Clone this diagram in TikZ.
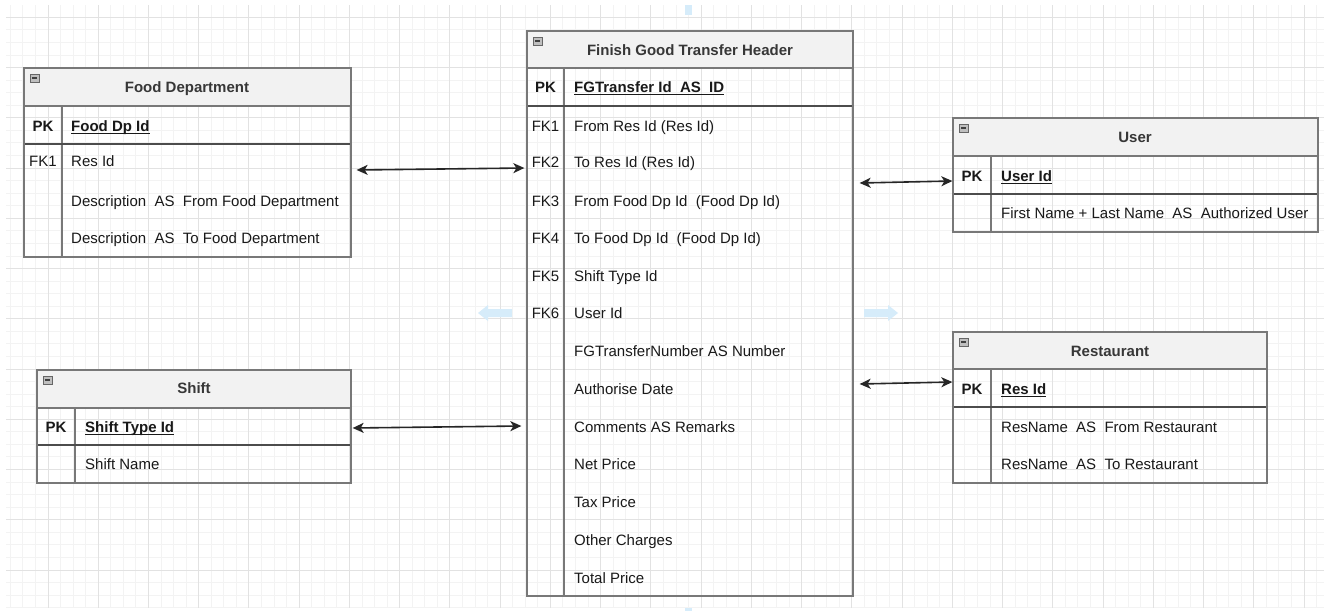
\documentclass[tikz,border=0pt]{standalone}
\usepackage{fontspec}
\setmainfont{Liberation Sans}
\usetikzlibrary{arrows.meta,fit}
\definecolor{bordercol}{RGB}{120,120,120}
\definecolor{titlefill}{RGB}{242,242,242}
\definecolor{gridminor}{RGB}{243,243,243}
\definecolor{gridmajor}{RGB}{226,226,226}
\definecolor{hintblue}{RGB}{214,236,250}
\definecolor{txt}{RGB}{25,25,25}
\definecolor{ttl}{RGB}{55,55,55}
\newcommand\ertab[8]{%
  \coordinate (#1-nw) at (#2,#3);
  \coordinate (#1-se) at (#4,#7);
  \fill[titlefill] (#2,#3) rectangle (#4,#5);
  \draw[tline] (#2,#5) -- (#4,#5);
  \draw[tline] (#8,#5) -- (#8,#7);
  \draw[pkline] (#2,#6) -- (#4,#6);
  \node[fit=(#1-nw)(#1-se), inner sep=0pt, draw=bordercol, line width=1.3pt] (#1) {};
  \draw[draw=black!60, fill=black!25, line width=0.6pt] ({#2+6},{#3+6}) rectangle ({#2+15},{#3+14});
  \fill[black!75] ({#2+8},{#3+9.3}) rectangle ({#2+13},{#3+10.9});
}
\newcommand\ulk[1]{\draw[txt, line width=1.1pt] ([yshift=1.6pt]#1.south west) -- ([yshift=1.6pt]#1.south east);}
\begin{document}
\begin{tikzpicture}[x=1pt,y=-1pt,
  tline/.style={draw=bordercol, line width=1.3pt},
  pkline/.style={draw=black!70, line width=1.7pt},
  base/.style={inner sep=0pt, text height=11pt, text depth=3.5pt, yshift=-1.5pt, text=txt, font=\fontsize{15}{17}\selectfont},
  ttlnode/.style={base, text=ttl, font=\fontsize{15}{17}\selectfont\bfseries},
  pknode/.style={base, font=\fontsize{15}{17}\selectfont\bfseries},
  keynode/.style={base, anchor=west, font=\fontsize{15}{17}\selectfont\bfseries},
  fknode/.style={base},
  rownode/.style={base, anchor=west},
  rel/.style={{Stealth[length=11pt,width=10pt,inset=3pt]}-{Stealth[length=11pt,width=10pt,inset=3pt]}, line width=1.6pt, draw=black!85},
  hint/.style={fill=hintblue, draw=none}
]
\useasboundingbox (0,0) rectangle (1328,611);
\fill[white] (0,0) rectangle (1328,611);
% grid
\begin{scope}
\clip (6,5) rectangle (1324,608);
\foreach \i in {-3,...,101} {\draw[gridminor, line width=1pt] ({48+12.56*\i},5) -- ({48+12.56*\i},608);}
\foreach \j in {-3,...,45} {\draw[gridminor, line width=1pt] (6,{570-12.56*\j}) -- (1324,{570-12.56*\j});}
\foreach \i in {0,4,...,100} {\draw[gridmajor, line width=1pt] ({48+12.56*\i},5) -- ({48+12.56*\i},608);}
\foreach \j in {0,4,...,44} {\draw[gridmajor, line width=1pt] (6,{570-12.56*\j}) -- (1324,{570-12.56*\j});}
\end{scope}
% faint hover arrows
\fill[hint] (478,313) -- (488,305) -- (488,309) -- (512,309) -- (512,317) -- (488,317) -- (488,321) -- cycle;
\fill[hint] (898,313) -- (888,305) -- (888,309) -- (864,309) -- (864,317) -- (888,317) -- (888,321) -- cycle;
\fill[hint] (685,5) rectangle (692,15);
\fill[hint] (685,608) rectangle (692,611);

% tables
\ertab{fd}{24}{68}{351}{106}{144}{257}{62}
\ertab{fgt}{527}{31}{853}{68}{106}{596}{564}
\ertab{usr}{953}{118}{1318}{156}{194}{232}{991}
\ertab{rst}{953}{332}{1267}{369}{407}{483}{991}
\ertab{sft}{37}{370}{351}{408}{445}{483}{75}

% Food Department
\node[ttlnode] (fdT) at (187,87) {Food Department};
\node[pknode] (fdPK) at (43,126) {PK};
\node[keynode] (fdK) at (71,126) {Food Dp Id};
\node[fknode] (fdF1) at (43,161) {FK1};
\node[rownode] (fdR1) at (71,161) {Res Id};
\node[rownode] (fdR2) at (71,201) {Description~ AS~ From Food Department};
\node[rownode] (fdR3) at (71,238) {Description~ AS~ To Food Department};

% Finish Good Transfer Header
\node[ttlnode] (fgtT) at (690,50) {Finish Good Transfer Header};
\node[pknode] (fgtPK) at (545.5,87) {PK};
\node[keynode] (fgtK) at (574,87) {FGTransfer Id~ AS~ ID};
\node[fknode] (fgtF1) at (545.5,126) {FK1};
\node[fknode] (fgtF2) at (545.5,162) {FK2};
\node[fknode] (fgtF3) at (545.5,201) {FK3};
\node[fknode] (fgtF4) at (545.5,238) {FK4};
\node[fknode] (fgtF5) at (545.5,276) {FK5};
\node[fknode] (fgtF6) at (545.5,313) {FK6};
\node[rownode] (fgtR1) at (574,126) {From Res Id (Res Id)};
\node[rownode] (fgtR2) at (574,162) {To Res Id (Res Id)};
\node[rownode] (fgtR3) at (574,201) {From Food Dp Id~ (Food Dp Id)};
\node[rownode] (fgtR4) at (574,238) {To Food Dp Id~ (Food Dp Id)};
\node[rownode] (fgtR5) at (574,276) {Shift Type Id};
\node[rownode] (fgtR6) at (574,313) {User Id};
\node[rownode] (fgtR7) at (574,351) {FGTransferNumber AS Number};
\node[rownode] (fgtR8) at (574,389) {Authorise Date};
\node[rownode] (fgtR9) at (574,427) {Comments AS Remarks};
\node[rownode] (fgtR10) at (574,464) {Net Price};
\node[rownode] (fgtR11) at (574,502) {Tax Price};
\node[rownode] (fgtR12) at (574,540) {Other Charges};
\node[rownode] (fgtR13) at (574,578) {Total Price};

% User
\node[ttlnode] (usrT) at (1135,137) {User};
\node[pknode] (usrPK) at (972,176) {PK};
\node[keynode] (usrK) at (1001,176) {User Id\ };
\node[rownode] (usrR1) at (1001,213) {First Name + Last Name~ AS~ Authorized User};

% Restaurant
\node[ttlnode] (rstT) at (1110,351) {Restaurant};
\node[pknode] (rstPK) at (972,389) {PK};
\node[keynode] (rstK) at (1001,389) {Res Id};
\node[rownode] (rstR1) at (1001,427) {ResName~ AS~ From Restaurant};
\node[rownode] (rstR2) at (1001,464) {ResName~ AS~ To Restaurant};

% Shift
\node[ttlnode] (sftT) at (194,388) {Shift};
\node[pknode] (sftPK) at (56,427) {PK};
\node[keynode] (sftK) at (85,427) {Shift Type Id};
\node[rownode] (sftR1) at (85,464) {Shift Name};

% underlines of key names
\ulk{fdK}
\ulk{fgtK}
\ulk{usrK}
\ulk{rstK}
\ulk{sftK}

% relations
\draw[rel] ([xshift=5pt]fd.east |- 0,170) -- ([xshift=-2pt]fgt.west |- 0,168);
\draw[rel] ([xshift=6pt]fgt.east |- 0,183) -- (usr.west |- 0,181);
\draw[rel] ([xshift=6pt]fgt.east |- 0,384) -- (rst.west |- 0,382);
\draw[rel] ([xshift=1pt]sft.east |- 0,428) -- ([xshift=-5pt]fgt.west |- 0,426);
\end{tikzpicture}
\end{document}
